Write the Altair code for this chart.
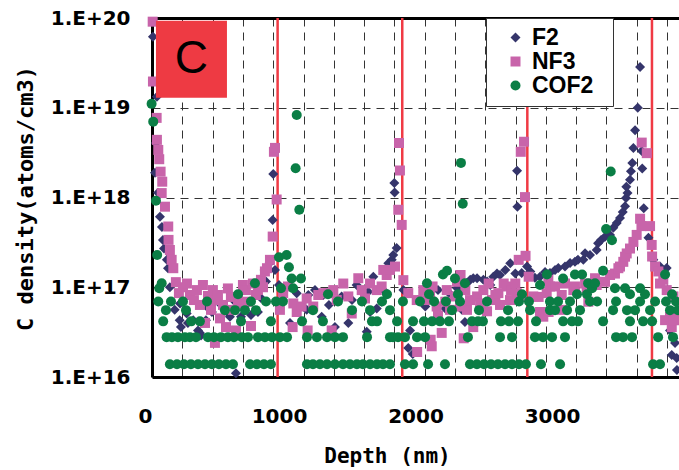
import altair as alt
import pandas as pd

# ---------------- data (depth in nm, C density in units of 1e16 atoms/cm3) ----------------
f2_depth = [77, 92, 99, 106, 114, 128, 143, 150, 158, 179, 187, 201, 236, 273, 275, 282, 324, 333, 372, 407,
            421, 429, 465, 470, 509, 544, 553, 592, 626, 641, 665, 685, 722, 758, 795, 846, 868, 895, 905, 932,
            954, 958, 971, 1000, 1029, 1081, 1130, 1203, 1215, 1264, 1313, 1325, 1366, 1410, 1459, 1508, 1535,
            1569, 1608, 1643, 1654, 1667, 1691, 1716, 1752, 1764, 1789, 1801, 1826, 1837, 1845, 1847, 1862, 1911,
            1947, 1960, 1980, 2018, 2072, 2121, 2165, 2218, 2260, 2304, 2326, 2340, 2362, 2375, 2401, 2423, 2451,
            2497, 2524, 2548, 2570, 2597, 2619, 2658, 2694, 2731, 2744, 2746, 2778, 2817, 2841, 2875, 2912, 2949,
            2985, 3022, 3046, 3095, 3132, 3168, 3190, 3229, 3242, 3278, 3327, 3337, 3359, 3388, 3425, 3449, 3474,
            3498, 3518, 3535, 3542, 3544, 3553, 3571, 3578, 3588, 3596, 3608, 3628, 3645, 3657, 3661, 3672, 3706,
            3742, 3791, 3840, 3857, 3864, 3877, 3889, 3901, 3913, 3915]
f2_value = [6170, 189, 405, 1324, 113, 61, 47, 33.7, 27, 20.2, 16.3, 10, 5.6, 4.3, 6.6, 3.6, 5.1, 4.0, 4.3, 3.3,
            3.1, 2.9, 4.3, 6.1, 5.3, 7.2, 6.9, 6.1, 5.2, 4.7, 7.2, 1.1, 4.7, 6.35, 4.9, 5.3, 7.6, 15.6, 11.6, 18.6,
            56, 183, 15.6, 10.6, 7.2, 4.0, 8.6, 5.6, 8.2, 9.3, 4.7, 8.2, 6.35, 3.6, 7.9, 4.0, 7.2,
            10.6, 7.2, 3.2, 8.9, 5.3, 13.1, 5.8, 6.9, 9.3, 15.6, 18.5, 20.2, 22.9, 145, 114, 27.3, 9.3,
            2.1, 3.3, 1.8, 7.2, 6.1, 7.5, 9.3, 5.8, 8.2, 9.8, 10.2, 5.6, 4.1, 11.1, 12.1, 12.6, 12.6,
            12.1, 11.6, 10.6, 13.1, 14.2, 13.7, 15.6, 18.5, 14.2, 199, 79, 14.4, 17, 15, 12.8, 13.1, 14.8,
            14.4, 15.6, 16.4, 17, 18.6, 19.2, 20.2, 20.2, 24, 22.9, 26, 31, 33.7, 36.5, 38.3, 46, 52,
            59, 69, 80, 99, 132, 112, 158, 196, 243, 357, 560, 1000, 2850, 330, 210, 76, 35.5,
            20.2, 17, 16.4, 4.7, 3.3, 1.76, 2.7, 2.4, 1.63, 1.2]

nf3_depth = [75, 77, 104, 106, 116, 123, 133, 141, 145, 165, 189, 191, 201, 214, 226, 245, 267, 297, 326, 348,
             377, 399, 421, 443, 458, 480, 502, 516, 531, 538, 553, 568, 590, 612, 626, 648, 663, 685, 700, 714,
             736, 758, 773, 795, 809, 831, 846, 868, 883, 897, 912, 934, 954, 963, 971, 983, 1007, 1031, 1066,
             1100, 1105, 1130, 1166, 1203, 1210, 1251, 1288, 1325, 1361, 1386, 1398, 1423, 1471, 1508, 1533, 1581,
             1606, 1630, 1667, 1716, 1752, 1764, 1789, 1813, 1850, 1874, 1879, 1886, 1899, 1911, 1947, 2009, 2012,
             2057, 2070, 2106, 2111, 2119, 2125, 2155, 2165, 2192, 2218, 2229, 2253, 2289, 2304, 2326, 2330, 2353,
             2365, 2377, 2399, 2423, 2451, 2473, 2497, 2524, 2536, 2560, 2585, 2607, 2619, 2646, 2668, 2692, 2700,
             2731, 2741, 2756, 2771, 2780, 2795, 2802, 2806, 2829, 2863, 2902, 2912, 2936, 2961, 2973, 2975, 2985,
             3022, 3071, 3073, 3095, 3156, 3168, 3242, 3254, 3266, 3315, 3327, 3388, 3425, 3461, 3486, 3498, 3522,
             3535, 3547, 3571, 3596, 3620, 3645, 3655, 3657, 3694, 3718, 3730, 3733, 3755, 3779, 3791, 3815, 3828,
             3840, 3864, 3877, 3889, 3891, 3913, 3925]
nf3_value = [9100, 1960, 771, 439, 339, 267, 194, 112, 150, 79, 47.5, 33.7, 26, 20.2, 16.3, 11.4, 8.6, 10, 11, 8.2,
             7.2, 9.3, 6.35, 10.6, 4.0, 8.0, 5.6, 9.3, 2.4, 7.2, 8.2, 4.5, 6.35, 3.6, 9.7, 7.8, 5.6, 3.3, 7.2, 6.35,
             10.6, 9.3, 6.9, 3.7, 11, 8.2, 9.3, 12.1, 10, 15, 16.3, 20.2, 36.7, 323, 357, 95, 5.6, 8.6, 10.2,
             3.6, 6.6, 5.3, 6.1, 7.5, 3.3, 6.1, 8.2, 8.6, 8.6, 3.3, 9.3, 7.2, 11, 7.9, 5.1, 12.6,
             9.3, 7.5, 11, 9.3, 10.2, 15.6, 13.7, 15.6, 17, 73, 405, 200, 49.5, 12, 8.6, 7.2, 1.9,
             9.3, 7.2, 8.6, 2.6, 2.2, 10.2, 6.1, 4.8, 3.1, 6.9, 9.3, 5.6, 7.9, 11.5, 6.1, 13.7, 2.7,
             9.3, 5.6, 7.2, 3.6, 7.9, 6.6, 9.3, 5.4, 11, 7.2, 8.2, 8.6, 6.35, 11, 10.2, 7.2, 9.3,
             11, 8.6, 20.2, 323, 7.9, 418, 101, 22.4, 13.1, 7.9, 7.8, 5.3, 4.7, 8.6, 12.1, 5.3, 10.2,
             10.2, 8.2, 5.6, 11, 9.3, 10.2, 11, 9.7, 6.9, 12.6, 10.6, 11.5, 13.7, 14.2, 16.3, 17, 19.2,
             21.9, 23.8, 27, 32, 38.3, 58, 48, 409, 312, 48, 29.6, 22, 17, 15, 11, 12.1, 4.3,
             9.3, 4.7, 3.6, 7.9, 4.3, 5.1, 4.3]

cof2_depth = [67, 79, 99, 108, 116, 123, 141, 152, 172, 177, 201, 209, 216, 253, 260, 297, 304, 311, 319, 348,
              355, 357, 392, 407, 421, 458, 473, 480, 509, 524, 560, 575, 604, 612, 626, 663, 670, 678, 700, 722,
              729, 751, 773, 788, 795, 824, 831, 839, 846, 890, 897, 905, 941, 941, 949, 978, 1000, 1007, 1015,
              1029, 1056, 1059, 1073, 1093, 1103, 1122, 1130, 1149, 1161, 1169, 1205, 1205, 1249, 1249, 1278, 1300,
              1322, 1352, 1352, 1359, 1410, 1410, 1432, 1469, 1469, 1520, 1535, 1571, 1608, 1615, 1645, 1667, 1667,
              1681, 1718, 1718, 1755, 1762, 1791, 1813, 1813, 1813, 1835, 1865, 1872, 1908, 1923, 1923, 1982, 1982,
              2011, 2033, 2062, 2070, 2084, 2092, 2099, 2121, 2136, 2179, 2201, 2216, 2223, 2231, 2245, 2267, 2289,
              2311, 2326, 2333, 2346, 2362, 2384, 2399, 2414, 2450, 2458, 2465, 2494, 2502, 2524, 2553, 2604, 2619,
              2626, 2656, 2678, 2685, 2707, 2707, 2751, 2758, 2758, 2780, 2809, 2831, 2839, 2875, 2883, 2912, 2919,
              2934, 2963, 2985, 2985, 3000, 3022, 3044, 3059, 3081, 3081, 3095, 3110, 3132, 3146, 3168, 3183, 3190,
              3205, 3220, 3256, 3264, 3278, 3293, 3315, 3330, 3374, 3374, 3396, 3430, 3439, 3447, 3461, 3469, 3469,
              3520, 3535, 3549, 3571, 3571, 3586, 3608, 3645, 3645, 3667, 3681, 3718, 3733, 3740, 3755, 3777, 3791,
              3828, 3835, 3864, 3879, 3886, 3908, 3923]
cof2_value = [1105, 700, 92, 22.9, 6.95, 9.73, 11.1, 4.17, 5.56, 2.78, 1.39, 6.95, 2.78, 1.39, 2.78, 6.95, 1.39, 2.78, 5.56, 2.78,
              1.39, 4.17, 2.78, 1.39, 4.17, 1.39, 6.95, 2.78, 1.39, 2.78, 1.39, 2.78, 5.56, 1.39, 2.78, 1.39, 2.78, 5.56, 8.34, 4.17,
              2.78, 5.56, 2.78, 1.39, 6.95, 11.1, 5.56, 1.39, 2.78, 1.39, 2.78, 6.95, 1.39, 4.17, 2.78, 6.95, 21.6, 2.78, 9.73,
              6.95, 22.9, 2.78, 16.7, 12.5, 9.73, 212, 830, 73, 12.5, 4.17, 1.39, 2.78, 1.39, 5.56, 2.78, 1.39,
              4.17, 1.39, 2.78, 8.34, 2.78, 1.39, 6.95, 1.39, 2.78, 1.39, 5.56, 1.39, 6.95, 1.39, 2.78, 5.56, 1.39,
              4.17, 4.17, 1.39, 6.95, 1.39, 8.34, 5.56, 1.39, 2.78, 2.78, 4.17, 2.78, 6.95, 1.39, 2.78, 1.39, 4.17,
              2.78, 6.95, 4.17, 2.78, 11.1, 1.39, 8.34, 4.17, 6.95, 4.17, 13.9, 1.39, 6.95, 15.3, 4.17, 5.56, 12.5,
              8.34, 6.95, 243, 85, 11.1, 2.78, 1.39, 4.17, 1.39, 4.17, 5.56, 4.17, 1.39, 6.95, 1.39, 1.39, 2.78,
              4.17, 1.39, 5.56, 4.17, 2.78, 1.39, 4.17, 1.39, 6.95, 8.34, 1.39, 6.95, 5.56, 2.78, 4.17, 10.6, 1.39,
              2.78, 13.9, 5.56, 6.95, 2.78, 5.56, 6.95, 1.39, 4.17, 12.5, 2.78, 5.56, 6.95, 4.17, 13.9, 8.34, 4.17,
              5.56, 13.9, 8.34, 11.1, 6.95, 9.73, 11.1, 6.95, 4.17, 15.3, 44.5, 195, 33.4, 5.56, 9.73, 2.78, 6.95,
              2.78, 9.73, 5.56, 8.34, 4.17, 2.78, 5.56, 9.73, 6.95, 4.17, 8.34, 5.56, 4.17, 1.39, 6.95, 2.78, 1.39,
              13.9, 6.95, 5.56, 8.34, 2.78, 6.95, 5.56]

series_names = ["F2", "NF3", "COF2"]
series_colors = ["#35356B", "#C864AA", "#0A7E45"]
series_shapes = ["diamond", "square", "circle"]
series_sizes = [100, 100, 135]

# x tick positions; the first one sits at the left frame and is labelled "0"
x_tick_values = [70, 1000, 2000, 3000]
y_tick_values = [1, 10, 100, 1000, 10000]
grid_depths = [292, 514, 736, 958, 1180, 1401, 1623, 1845, 2067, 2289, 2511, 2733, 2955, 3177, 3398, 3620, 3842]
interface_depths = [990, 1903, 2819, 3732]

panel_label = ["C"]
panel_box_depth = [99, 619]
panel_box_value = [1290, 9310]
panel_text_depth = [359]
panel_text_value = [3464]

# ---------------- tables ----------------
rows = []
for name, ds, vs in zip(series_names, [f2_depth, nf3_depth, cof2_depth], [f2_value, nf3_value, cof2_value]):
    for d, v in zip(ds, vs):
        rows.append({"series": name, "depth": d, "value": v})
df = pd.DataFrame(rows)

xscale = alt.Scale(domain=[70, 3930], nice=False, zero=False)
yscale = alt.Scale(type="log", domain=[1, 10000], nice=False)

tick_font = "DejaVu Sans"
title_font = "DejaVu Sans Mono"

points = alt.Chart(df).mark_point(filled=True, opacity=1, strokeWidth=0).encode(
    x=alt.X("depth:Q", scale=xscale,
            axis=alt.Axis(values=x_tick_values, grid=False, ticks=False, domain=True,
                          domainColor="black", domainWidth=3, labelFont=tick_font,
                          labelFontWeight="bold", labelFontSize=20, labelColor="black",
                          labelPadding=29, labelFlush=False, labelOverlap=False,
                          labelExpr="datum.value < 100 ? '0' : format(datum.value, 'd')",
                          labelAlign={"condition": {"test": "datum.value < 100", "value": "right"},
                                      "value": "center"},
                          title="Depth (nm)", titleFont=title_font, titleFontWeight="bold",
                          titleFontSize=21, titleColor="black", titleX=235, titleY=79,
                          titleBaseline="middle")),
    y=alt.Y("value:Q", scale=yscale,
            axis=alt.Axis(values=y_tick_values,
                          labelExpr="'1.E+' + (16 + round(log(datum.value) / LN10))",
                          grid=True, gridDash=[8, 6], gridColor="#333333", gridWidth=1,
                          ticks=False, domain=True, domainColor="black", domainWidth=3,
                          labelFont=tick_font, labelFontWeight="bold", labelFontSize=20,
                          labelColor="black", labelPadding=22, labelFlush=False,
                          labelOverlap=False,
                          title="C density(atoms/cm3)", titleFont=title_font,
                          titleFontWeight="bold", titleFontSize=22, titleColor="black",
                          titleX=-127, titleY=180, titleBaseline="middle")),
    color=alt.Color("series:N", scale=alt.Scale(domain=series_names, range=series_colors),
                    legend=alt.Legend(title="Gas", titleOrient="right", titleOpacity=0,
                                      titleFontSize=6, titlePadding=0,
                                      orient="none", legendX=334, legendY=0,
                                      padding=8, symbolOffset=10, labelOffset=5,
                                      labelFont="Liberation Sans", labelFontWeight="bold",
                                      labelFontSize=23, labelColor="black", rowPadding=0,
                                      fillColor="white", strokeColor="#333333",
                                      symbolStrokeWidth=0)),
    shape=alt.Shape("series:N", scale=alt.Scale(domain=series_names, range=series_shapes)),
    size=alt.Size("series:N", scale=alt.Scale(domain=series_names, range=series_sizes)),
)

rules = alt.Chart(pd.DataFrame({"depth": interface_depths})).mark_rule(
    color="#F03A44", strokeWidth=2.5
).encode(
    x=alt.X("depth:Q", scale=xscale,
            axis=alt.Axis(orient="top", values=grid_depths, grid=True, gridDash=[8, 6],
                          gridColor="#333333", gridWidth=1, labels=False, ticks=False,
                          domain=True, domainColor="black", domainWidth=3, title=None))
)

box_df = pd.DataFrame({"d1": [panel_box_depth[0]], "d2": [panel_box_depth[1]],
                       "value": [panel_box_value[0]], "v2": [panel_box_value[1]]})
box = alt.Chart(box_df).mark_rect(color="#EE3A43").encode(
    x=alt.X("d1:Q", scale=xscale, axis=None), x2="d2",
    y=alt.Y("value:Q", scale=yscale), y2="v2",
)

txt_df = pd.DataFrame({"label": panel_label, "depth": panel_text_depth, "value": panel_text_value})
txt = alt.Chart(txt_df).mark_text(font="Liberation Sans", fontSize=46, color="black",
                                  baseline="middle", align="center").encode(
    x=alt.X("depth:Q", scale=xscale, axis=None),
    y=alt.Y("value:Q", scale=yscale),
    text="label:N",
)

chart = alt.layer(rules, points, box, txt).resolve_axis(x="independent").properties(
    width=527, height=359,
    autosize=alt.AutoSizeParams(type="none"),
    padding={"left": 152, "top": 18, "right": 0, "bottom": 93},
).configure_view(stroke=None).configure(background="white")

chart.save("out.html", embed_options={"renderer": "svg", "actions": False})
